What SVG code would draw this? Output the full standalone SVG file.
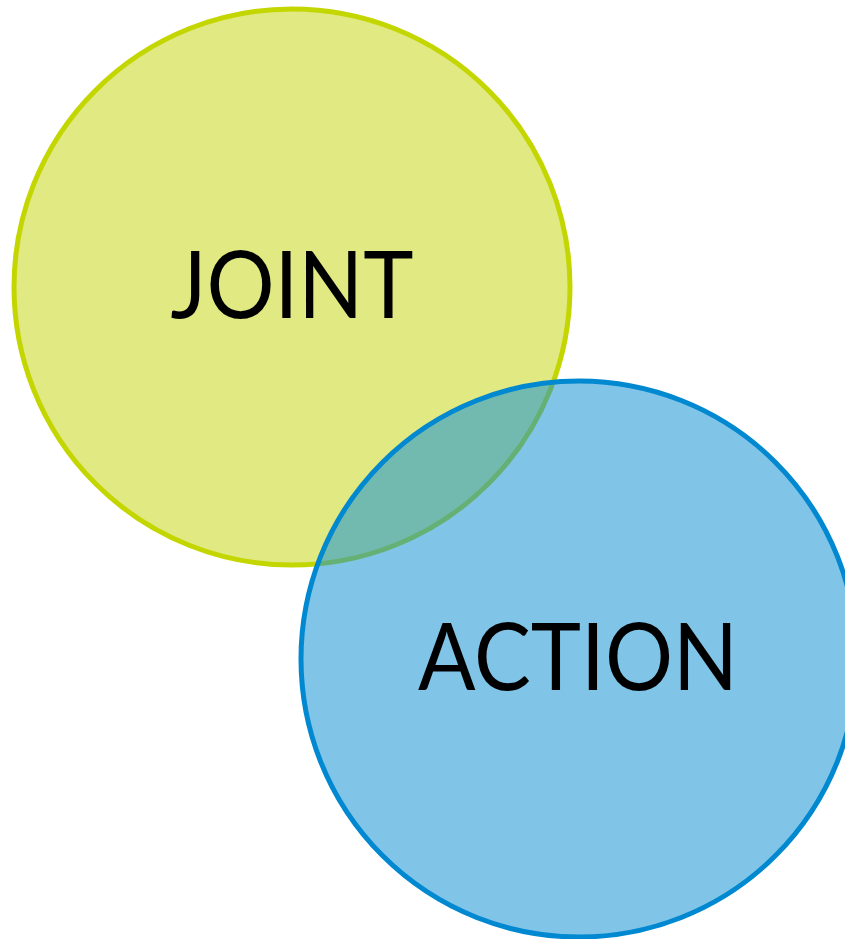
<svg xmlns="http://www.w3.org/2000/svg" width="845" height="939" viewBox="0 0 845 939">
<style>
.lbl{font-family:"Lato","Open Sans","Liberation Sans",sans-serif;font-size:94px;fill:#000;text-anchor:middle}
</style>
<rect width="845" height="939" fill="#fff"/>
<g id="joint">
<circle cx="292" cy="287" r="278" fill="#E0E982" stroke="#C4D600" stroke-width="5"/>
<text class="lbl" x="292" y="318" textLength="243" lengthAdjust="spacingAndGlyphs">JOINT</text>
</g>
<g id="action">
<circle cx="579" cy="659" r="278" fill="#1894D5" fill-opacity="0.55" stroke="#0088D1" stroke-width="5"/>
<text class="lbl" x="578" y="690" textLength="320" lengthAdjust="spacingAndGlyphs">ACTION</text>
</g>
<g id="connectors"/>
</svg>
